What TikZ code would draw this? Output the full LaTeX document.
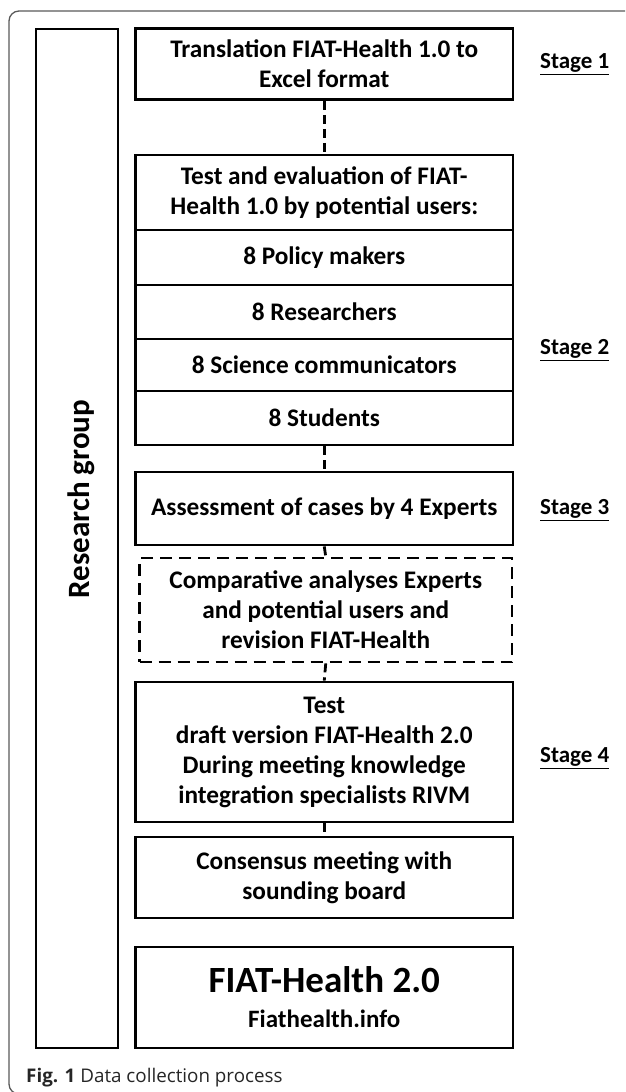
\documentclass[tikz,border=0pt]{standalone}
\usepackage{fontspec}
\setmainfont{Carlito}
\newfontfamily\capfont{Open Sans}
\begin{document}
\begin{tikzpicture}[x=1pt,y=-1pt,
  box/.style={draw=black, line width=2.8pt, minimum width=377.5pt, inner sep=0pt, align=center,
    font=\bfseries\fontsize{25.3}{30}\selectfont, text=black},
  dbox/.style={box, minimum width=372.5pt, dash pattern=on 12pt off 7pt},
  link/.style={draw=black, line width=2.8pt, dash pattern=on 9pt off 5pt},
  stagelbl/.style={font=\bfseries\fontsize{23}{27}\selectfont, anchor=west, inner sep=0pt, text=black},
]
\useasboundingbox (0,0) rectangle (625,1092);
\clip (0,0) rectangle (625,1092);
% outer frame
\draw[black!65, line width=1.3pt, rounded corners=10pt] (660,1094) -- (9,1094) -- (9,11) -- (660,11);
% research group
\node[draw=black, line width=2.8pt, minimum width=82pt, minimum height=1019pt, inner sep=0pt] (rg) at (77,538.5) {};
\node[font=\bfseries\fontsize{31}{34}\selectfont, rotate=90, inner sep=0pt] (rgt) at (81,499) {Research group};
% main column
\node[box, minimum height=71pt] (b1) at (324.25,64) {Translation FIAT-Health 1.0 to\\Excel format};
\node[box, minimum height=75pt] (b2) at (324.25,192.5) {Test and evaluation of FIAT-\\Health 1.0 by potential users:};
\node[box, minimum height=55pt] (u1) at (324.25,257.5) {8 Policy makers};
\node[box, minimum height=54pt] (u2) at (324.25,312) {8 Researchers};
\node[box, minimum height=52pt] (u3) at (324.25,365) {8 Science communicators};
\node[box, minimum height=54pt] (u4) at (324.25,418) {8 Students};
\node[box, minimum height=73pt] (b3) at (324.25,508.5) {Assessment of cases by 4 Experts};
\node[dbox, minimum height=104pt] (b4) at (325.75,610) {Comparative analyses Experts\\and potential users and\\revision FIAT-Health};
\node[box, minimum height=140pt] (b5) at (324.25,752) {Test\\draft version FIAT-Health 2.0\\During meeting knowledge\\integration specialists RIVM};
\node[box, minimum height=81pt] (b6) at (324.25,877.5) {Consensus meeting with\\sounding board};
\node[box, minimum height=101pt] (b7) at (324.25,997.5) {{\fontsize{37}{40}\selectfont FIAT-Health 2.0}\\[5pt]{\fontsize{25}{30}\selectfont Fiathealth.info}};
% connectors
\draw[link] (b1.south) -- (b2.north);
\draw[link] (u4.south) -- (b3.north);
\draw[link] (b3.south) -- (b4.north);
\draw[link] (b4.south) -- (b5.north);
\draw[link] (b5.south) -- (b6.north);
% stage labels
\node[stagelbl] (s1) at (540,64) {\underline{Stage 1}};
\node[stagelbl] (s2) at (540,350) {\underline{Stage 2}};
\node[stagelbl] (s3) at (540,510) {\underline{Stage 3}};
\node[stagelbl] (s4) at (540,758) {\underline{Stage 4}};
% caption
\node[anchor=base west, inner sep=0pt, font=\capfont\fontsize{18.8}{21}\selectfont, text=black!85] (cap) at (26,1082) {\textbf{Fig. 1} Data collection process};
\end{tikzpicture}
\end{document}
